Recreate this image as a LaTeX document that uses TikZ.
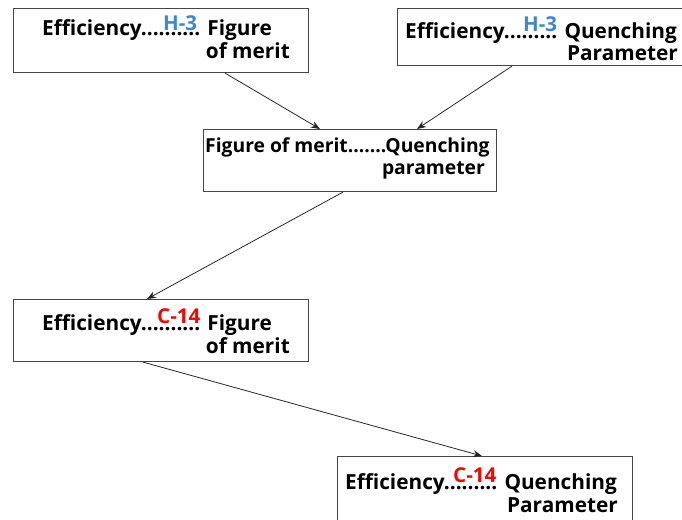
\documentclass[tikz,border=0pt]{standalone}
\usepackage{fontspec}
\setmainfont{Open Sans}
\usetikzlibrary{arrows.meta}
\definecolor{tagblue}{HTML}{3A87D6}
\definecolor{tagred}{HTML}{FF0000}
\definecolor{edge}{HTML}{454545}
\tikzset{
  box/.style={draw=edge, line width=1.1pt, fill=white, inner sep=0pt, anchor=north west},
  txt/.style={inner sep=0pt, font=\bfseries\fontsize{20.8}{23}\selectfont, text=black},
  smalltxt/.style={inner sep=0pt, font=\bfseries\fontsize{19.3}{22}\selectfont, text=black},
  tag/.style={inner sep=0pt, font=\bfseries\fontsize{20.5}{23}\selectfont, anchor=base west},
  link/.style={draw=black!85, line width=0.8pt, -{Stealth[length=9pt,width=7pt]}}
}
\begin{document}
\begin{tikzpicture}[x=1pt,y=-1pt]
\clip (0,0) rectangle (682,519);
\useasboundingbox (0,0) rectangle (682,519);

% boxes
\node[box, minimum width=295pt, minimum height=64pt] (b1) at (13,8) {};
\node[box, minimum width=300pt, minimum height=57pt] (b2) at (397,8) {};
\node[box, minimum width=293pt, minimum height=62pt] (b3) at (203,129) {};
\node[box, minimum width=295pt, minimum height=62pt] (b4) at (13,299) {};
\node[box, minimum width=295pt, minimum height=90pt] (b5) at (337,456) {};

% texts
\node[txt, anchor=base west] (t1a) at (42,36) {Efficiency.......... Figure};
\node[txt, anchor=base east] (t1b) at (290,59) {of merit};
\node[txt, anchor=base west] (t2a) at (405,38) {Efficiency......... Quenching};
\node[txt, anchor=base east] (t2b) at (678,60) {Parameter};
\node[smalltxt, anchor=base west] (t3a) at (205,152) {Figure of merit.......Quenching};
\node[smalltxt, anchor=base east] (t3b) at (485,174) {parameter};
\node[txt, anchor=base west] (t4a) at (42,330) {Efficiency.......... Figure};
\node[txt, anchor=base east] (t4b) at (290,353) {of merit};
\node[txt, anchor=base west] (t5a) at (345,489) {Efficiency......... Quenching};
\node[txt, anchor=base east] (t5b) at (618,512) {Parameter};

% isotope tags
\node[tag, text=tagblue] (h1) at (163,31) {H-3};
\node[tag, text=tagblue] (h2) at (523,32) {H-3};
\node[tag, text=tagred] (c1) at (157,323) {C-14};
\node[tag, text=tagred] (c2) at (453,482) {C-14};

% connectors
\draw[link] ([xshift=212pt]b1.south west) -- ([xshift=117pt]b3.north west);
\draw[link] ([xshift=115pt]b2.south west) -- ([xshift=214pt]b3.north west);
\draw[link] ([xshift=140pt]b3.south west) -- ([xshift=134pt]b4.north west);
\draw[link] ([xshift=130pt]b4.south west) -- ([xshift=145pt]b5.north west);
\end{tikzpicture}
\end{document}
